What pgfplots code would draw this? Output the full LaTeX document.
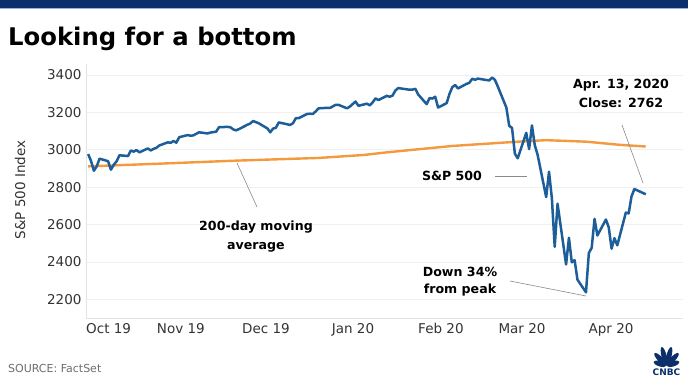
\documentclass[border=0pt]{standalone}
\usepackage{pgfplots}
\pgfplotsset{compat=1.18}
\usepackage{fontspec}
\setmainfont{DejaVu Sans}
\definecolor{navy}{HTML}{0C2F6B}
\definecolor{lightbar}{HTML}{8FB4E3}
\definecolor{spblue}{HTML}{1D5E98}
\definecolor{maorange}{HTML}{F4993E}
\definecolor{txtgray}{HTML}{333333}
\definecolor{srcgray}{HTML}{6E6E6E}
\definecolor{leader}{HTML}{8A8A8A}
\begin{document}
\begin{tikzpicture}
\useasboundingbox (0pt,0pt) rectangle (688pt,386pt);
\fill[white] (0pt,0pt) rectangle (688pt,386pt);
\fill[navy] (0pt,378pt) rectangle (688pt,386pt);
\fill[lightbar] (0pt,376.6pt) rectangle (688pt,378pt);
\node[anchor=base west, inner sep=0pt, font=\bfseries\fontsize{24.3}{28}\selectfont, text=black] at (8pt,340pt) {Looking for a bottom};
\begin{axis}[
  at={(86pt,68pt)}, anchor=south west,
  scale only axis, width=597pt, height=254.3pt,
  xmin=-1.76, xmax=208.1, ymin=2100, ymax=3460,
  axis x line*=bottom, axis y line*=left,
  axis line style={draw=gray!22, line width=0.8pt},
  ytick={2200,2400,...,3400},
  ymajorgrids, grid style={draw=gray!12, line width=0.7pt},
  xtick={6.2,31.6,61.5,92.1,123,151.5,182.8},
  xticklabels={Oct 19,Nov 19,Dec 19,Jan 20,Feb 20,Mar 20,Apr 20},
  major tick length=0pt,
  /pgf/number format/assume math mode=true,
  /pgf/number format/1000 sep={},
  tick label style={font=\fontsize{13.5}{15}\selectfont, text=txtgray},
  xticklabel style={yshift=-2pt},
  yticklabel style={xshift=-1pt},
]
\addplot[maorange, line width=2.4pt] coordinates {
(-1,2911) (20,2923) (50,2941) (80,2956) (96,2972) (104,2986) (127,3020)
(150,3043) (160,3051) (174,3043) (186,3026) (195,3017)
};
\addplot[spblue, line width=2.5pt, line join=round] coordinates {
(-1,2976.74) (0,2940.25) (1,2887.61) (2,2910.63) (3,2952.01) (6,2938.79) (7,2893.06)
(8,2919.40) (9,2938.13) (10,2970.27) (13,2966.15) (14,2995.68) (15,2989.69) (16,2997.95)
(17,2986.20) (20,3006.72) (21,2995.99) (22,3004.52) (23,3010.29) (24,3022.55) (27,3039.42)
(28,3036.89) (29,3046.77) (30,3037.56) (31,3066.91) (34,3078.27) (35,3074.62) (36,3076.78)
(37,3085.18) (38,3093.08) (41,3087.01) (42,3091.84) (43,3094.04) (44,3096.63) (45,3120.46)
(48,3122.03) (49,3120.18) (50,3108.46) (51,3103.54) (52,3110.29) (55,3133.64) (56,3140.52)
(57,3153.63) (59,3140.98) (62,3113.87) (63,3093.20) (64,3112.76) (65,3117.43) (66,3145.91)
(69,3135.96) (70,3132.52) (71,3141.63) (72,3168.57) (73,3168.80) (76,3191.45) (77,3192.52)
(78,3191.14) (79,3205.37) (80,3221.22) (83,3224.01) (84,3223.38) (86,3239.91) (87,3240.02)
(90,3221.29) (91,3230.78) (93,3257.85) (94,3234.85) (97,3246.28) (98,3237.18) (99,3253.05)
(100,3274.70) (101,3265.35) (104,3288.13) (105,3283.15) (106,3289.29) (107,3316.81) (108,3329.62)
(112,3320.79) (113,3321.75) (114,3325.54) (115,3295.47) (118,3243.63) (119,3276.24) (120,3273.40)
(121,3283.66) (122,3225.52) (125,3248.92) (126,3297.59) (127,3334.69) (128,3345.78) (129,3327.71)
(132,3352.09) (133,3357.75) (134,3379.45) (135,3373.94) (136,3380.16) (140,3370.29) (141,3386.15)
(142,3373.23) (143,3337.75) (146,3225.89) (147,3128.21) (148,3116.39) (149,2978.76) (150,2954.22)
(153,3090.23) (154,3003.37) (155,3130.12) (156,3023.94) (157,2972.37) (160,2746.56) (161,2882.23)
(162,2741.38) (163,2480.64) (164,2711.02) (167,2386.13) (168,2529.19) (169,2398.10) (170,2409.39)
(171,2304.92) (174,2237.40) (175,2447.33) (176,2475.56) (177,2630.07) (178,2541.47) (181,2626.65)
(182,2584.59) (183,2470.50) (184,2526.90) (185,2488.65) (188,2663.68) (189,2659.41) (190,2749.98)
(191,2789.82) (195,2761.63)
};
\end{axis}
% y label
\node[rotate=90, font=\fontsize{13.5}{15}\selectfont, text=txtgray] at (20pt,196pt) {S\&P 500 Index};
% annotations
\begin{scope}[font=\bfseries\fontsize{12.6}{14}\selectfont, text=black]
\node at (621pt,301pt) {Apr. 13, 2020};
\node at (621pt,283pt) {Close: 2762};
\node at (452pt,210pt) {S\&P 500};
\node at (256pt,159pt) {200-day moving};
\node at (256pt,139pt) {average};
\node at (460pt,114pt) {Down 34\%};
\node at (460pt,96pt) {from peak};
\end{scope}
\begin{scope}[draw=leader, line width=0.6pt]
\draw (622pt,261pt) -- (643pt,203pt);
\draw (495pt,210pt) -- (527pt,210pt);
\draw (237pt,223pt) -- (257pt,179pt);
\draw (510pt,105pt) -- (586pt,90pt);
\end{scope}
% source
\node[anchor=west, inner sep=0pt, font=\fontsize{11}{13}\selectfont, text=srcgray] at (8pt,18pt) {SOURCE: FactSet};
% CNBC logo
\foreach \a/\l in {-72/7, -43/9, -14/10, 14/10, 43/9, 72/7} {
  \fill[navy, rotate around={\a:(666.5pt,20pt)}] (666.5pt,{(20+\l)*1pt}) ellipse ({2.6pt} and {\l*0.95pt});
}
\node[font=\bfseries\fontsize{9}{10}\selectfont, text=navy, inner sep=0pt] at (666.5pt,13.5pt) {CNBC};
\end{tikzpicture}
\end{document}
